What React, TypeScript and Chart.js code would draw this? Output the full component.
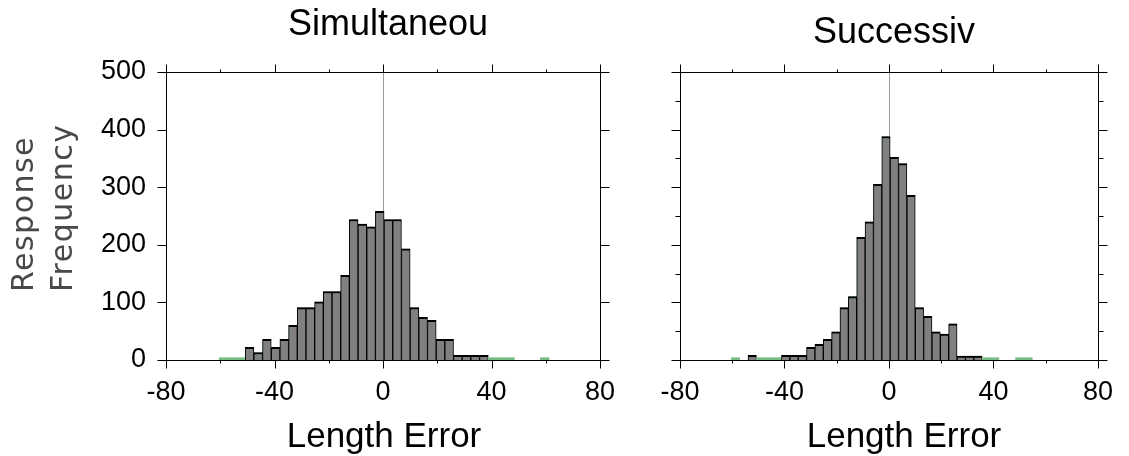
import React, { useEffect, useRef } from "react";
import { Chart, registerables } from "chart.js";

Chart.register(...registerables);

// ---------- data ----------
const leftTitle = "Simultaneou";
const rightTitle = "Successiv";
const xAxisTitle = "Length Error";
const yAxisTitle = ["Response", "Frequency"];

const xMajorTicks = [-80, -40, 0, 40, 80];
const xMinorTicks = [-60, -20, 20, 60];
const yMajorTicks = [0, 100, 200, 300, 400, 500];
const yMinorTicksRight = [50, 150, 250, 350, 450];

const leftBins = [
  -58.8, -55.6, -52.4, -49.2, -46.0, -42.8, -39.6, -36.4, -33.2, -30.0, -26.8,
  -23.6, -20.4, -17.2, -14.0, -10.8, -7.6, -4.4, -1.2, 2.0, 5.2, 8.4, 11.6,
  14.8, 18.0, 21.2, 24.4, 27.6, 30.8, 34.0, 37.2, 40.4, 43.6, 46.8, 59.6,
];
const leftCounts = [
  4, 4, 4, 22, 13, 36, 22, 36, 60, 91, 91, 101, 119, 119, 147, 244, 236, 231,
  258, 244, 244, 193, 91, 74, 69, 36, 36, 8, 8, 8, 8, 4, 4, 4, 4,
];

const rightBins = [
  -58.75, -52.35, -49.15, -45.95, -42.75, -39.55, -36.35, -33.15, -29.95,
  -26.75, -23.55, -20.35, -17.15, -13.95, -10.75, -7.55, -4.35, -1.15, 2.05,
  5.25, 8.45, 11.65, 14.85, 18.05, 21.25, 24.45, 27.65, 30.85, 34.05, 37.25,
  40.45, 50.05, 53.25,
];
const rightCounts = [
  4, 8, 4, 4, 4, 8, 8, 8, 22, 27, 36, 49, 91, 110, 213, 240, 305, 388, 352, 341,
  286, 91, 76, 49, 45, 63, 7, 7, 7, 4, 4, 4, 4,
];

// ---------- styles ----------
const GRAY = "#808080";
const GREEN = "#78bb84";
const BLACK = "#000000";
const ZERO_LINE = "#9a9a9a";
const FONT = '"Liberation Sans", Arial, Helvetica, sans-serif';

const isTiny = (v: number) => v <= 5;

type PanelCfg = {
  name: string;
  title: string;
  titleX: number;
  titleY: number;
  xTitleX: number;
  xTitleY: number;
  showYLabels: boolean;
  yMinor: number[];
  yTitle: boolean;
  padLeftAxis: number;
  padRight: number;
};

function decorPlugin(cfg: PanelCfg) {
  return {
    id: "decor_" + cfg.name,
    beforeDatasetsDraw(chart: any) {
      const { ctx, chartArea: ca, scales } = chart;
      const x0 = Math.round(scales.x.getPixelForValue(0)) + 0.5;
      ctx.save();
      ctx.strokeStyle = ZERO_LINE;
      ctx.lineWidth = 1;
      ctx.beginPath();
      ctx.moveTo(x0, ca.top);
      ctx.lineTo(x0, ca.bottom);
      ctx.stroke();
      ctx.restore();
    },
    afterDraw(chart: any) {
      const { ctx, chartArea: ca, scales } = chart;
      const L = Math.round(ca.left) + 0.5;
      const R = Math.round(ca.right) + 0.5;
      const T = Math.round(ca.top) + 0.5;
      const B = Math.round(ca.bottom) + 0.5;
      ctx.save();
      ctx.strokeStyle = BLACK;
      ctx.lineWidth = 1;
      ctx.beginPath();
      ctx.rect(L, T, R - L, B - T);
      const xt = (v: number, len: number) => {
        const px = Math.round(scales.x.getPixelForValue(v)) + 0.5;
        ctx.moveTo(px, B);
        ctx.lineTo(px, B + len);
        ctx.moveTo(px, T);
        ctx.lineTo(px, T - len);
      };
      xMajorTicks.forEach((v) => xt(v, 8));
      xMinorTicks.forEach((v) => xt(v, 3));
      const yt = (v: number, len: number) => {
        const py = Math.round(scales.y.getPixelForValue(v)) + 0.5;
        ctx.moveTo(L, py);
        ctx.lineTo(L - len, py);
        ctx.moveTo(R, py);
        ctx.lineTo(R + len, py);
      };
      yMajorTicks.forEach((v) => yt(v, 9));
      cfg.yMinor.forEach((v) => yt(v, 5));
      ctx.stroke();

      ctx.fillStyle = BLACK;
      ctx.textAlign = "center";
      ctx.textBaseline = "alphabetic";
      ctx.font = `36px ${FONT}`;
      ctx.fillText(cfg.title, cfg.titleX, cfg.titleY);
      ctx.font = `35px ${FONT}`;
      ctx.fillText(xAxisTitle, cfg.xTitleX, cfg.xTitleY);

      if (cfg.yTitle) {
        ctx.fillStyle = "#484848";
        ctx.font = `30px "DejaVu Sans", sans-serif`;
        ctx.textAlign = "left";
        (ctx as any).letterSpacing = "1.5px";
        const baselines = [33, 72];
        yAxisTitle.forEach((t, i) => {
          ctx.save();
          ctx.translate(baselines[i], 292);
          ctx.rotate(-Math.PI / 2);
          ctx.fillText(t, 0, 0);
          ctx.restore();
        });
      }
      ctx.restore();
    },
  };
}

function makeChart(canvas: HTMLCanvasElement, bins: number[], counts: number[], cfg: PanelCfg) {
  const points = bins.map((x, i) => ({ x, y: counts[i] }));
  const val = (c: any) => (c.raw ? c.raw.y : 0);
  return new Chart(canvas, {
    type: "bar",
    data: {
      datasets: [
        {
          data: points,
          grouped: false,
          backgroundColor: (c: any) => (isTiny(val(c)) ? GREEN : GRAY),
          borderColor: BLACK,
          borderWidth: (c: any) =>
            isTiny(val(c)) ? 0 : { top: 2, left: 1, right: 1, bottom: 0 },
          borderSkipped: false,
          categoryPercentage: 1,
          barPercentage: 1,
        } as any,
        {
          data: points,
          grouped: false,
          backgroundColor: "rgba(0,0,0,0)",
          borderColor: GREEN,
          borderWidth: (c: any) =>
            isTiny(val(c)) ? 0 : { top: 1, left: 1, right: 0, bottom: 0 },
          borderSkipped: false,
          categoryPercentage: 1,
          barPercentage: 1,
        } as any,
      ],
    },
    options: {
      animation: false,
      responsive: false,
      maintainAspectRatio: false,
      events: [],
      layout: { padding: { top: 72, right: cfg.padRight, left: 0, bottom: 0 } },
      plugins: {
        legend: { display: false },
        title: { display: false },
        tooltip: { enabled: false },
      },
      scales: {
        x: {
          type: "linear",
          position: "bottom",
          min: -80,
          max: 80,
          offset: false,
          grid: { display: false, drawTicks: false, offset: false },
          border: { display: false },
          afterBuildTicks: (s: any) => {
            s.ticks = xMajorTicks.map((v) => ({ value: v }));
          },
          ticks: {
            autoSkip: false,
            maxRotation: 0,
            padding: 16,
            color: BLACK,
            font: { family: FONT, size: 27 },
          },
          afterFit: (s: any) => {
            s.height = 96;
          },
        },
        y: {
          type: "linear",
          min: 0,
          max: 500,
          grid: { display: false, drawTicks: false },
          border: { display: false },
          afterBuildTicks: (s: any) => {
            s.ticks = yMajorTicks.map((v) => ({ value: v }));
          },
          ticks: {
            display: cfg.showYLabels,
            padding: 20,
            color: BLACK,
            font: { family: FONT, size: 27 },
          },
          afterFit: (s: any) => {
            s.width = cfg.padLeftAxis;
          },
        },
      },
    } as any,
    plugins: [decorPlugin(cfg)],
  });
}

export default function App() {
  const leftRef = useRef<HTMLCanvasElement>(null);
  const rightRef = useRef<HTMLCanvasElement>(null);

  useEffect(() => {
    const c1 = makeChart(leftRef.current!, leftBins, leftCounts, {
      name: "left",
      title: leftTitle,
      titleX: 388,
      titleY: 35,
      xTitleX: 384,
      xTitleY: 447,
      showYLabels: true,
      yMinor: [],
      yTitle: true,
      padLeftAxis: 166,
      padRight: 40,
    });
    const c2 = makeChart(rightRef.current!, rightBins, rightCounts, {
      name: "right",
      title: rightTitle,
      titleX: 254,
      titleY: 43,
      xTitleX: 264,
      xTitleY: 447,
      showYLabels: false,
      yMinor: yMinorTicksRight,
      yTitle: false,
      padLeftAxis: 40,
      padRight: 17,
    });
    return () => {
      c1.destroy();
      c2.destroy();
    };
  }, []);

  return (
    <div
      style={{
        position: "fixed",
        left: 0,
        top: 0,
        width: 1129,
        height: 456,
        background: "#ffffff",
        overflow: "hidden",
      }}
    >
      <canvas
        ref={leftRef}
        width={640}
        height={456}
        style={{ position: "absolute", left: 0, top: 0, width: 640, height: 456 }}
      />
      <canvas
        ref={rightRef}
        width={489}
        height={456}
        style={{ position: "absolute", left: 640, top: 0, width: 489, height: 456 }}
      />
    </div>
  );
}
